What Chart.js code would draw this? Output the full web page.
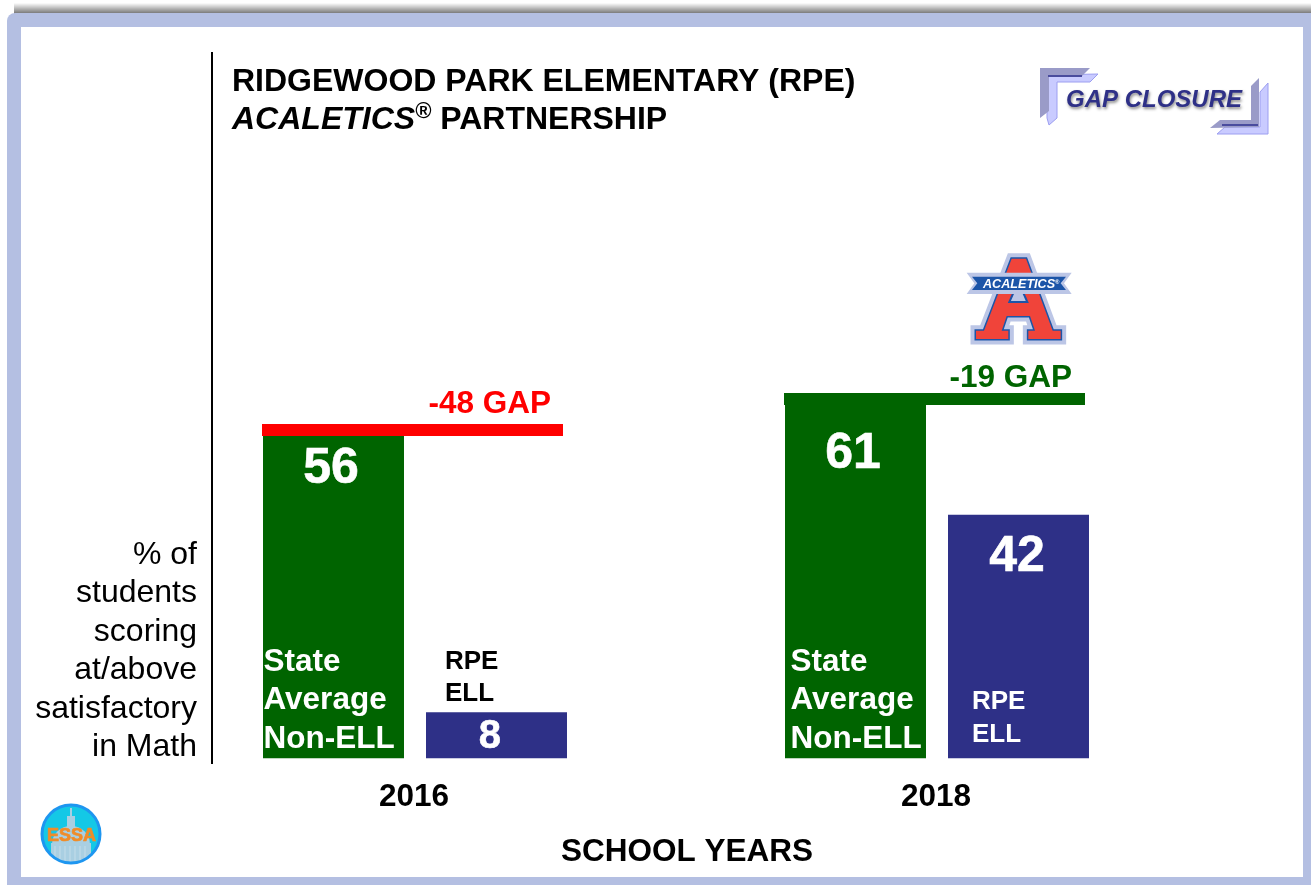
<!DOCTYPE html>
<html>
<head>
<meta charset="utf-8">
<title>Gap Closure</title>
<script src="https://cdn.jsdelivr.net/npm/chart.js@4/dist/chart.umd.min.js"></script>
<style>
  html, body { margin: 0; padding: 0; background: #fff; overflow: hidden; }
  #wrap { position: relative; width: 1311px; height: 885px; }
</style>
</head>
<body>
<div id="wrap"><canvas id="Chart1"></canvas></div>
<script>
const categories = ["2016", "2018"];
const stateAverage = [56, 61];
const rpeEll = [8, 42];
const gaps = [-48, -19];
const yAxisLines = ["% of", "students", "scoring", "at/above", "satisfactory", "in Math"];
const stateLines = ["State", "Average", "Non-ELL"];
const rpeLines = ["RPE", "ELL"];

const GREEN = "#006400";
const BLUE = "#2E3087";
const FONT = '"Liberation Sans", Arial, sans-serif';

function text(ctx, str, x, y, font, color, align) {
  ctx.font = font;
  ctx.fillStyle = color;
  ctx.textAlign = align || "left";
  ctx.textBaseline = "alphabetic";
  ctx.fillText(str, x, y);
}

function poly(ctx, pts) {
  ctx.beginPath();
  pts.forEach(function (p, i) {
    if (i === 0) ctx.moveTo(p[0], p[1]); else ctx.lineTo(p[0], p[1]);
  });
  ctx.closePath();
}

// slide frame with the soft shadow along the top
function drawFrame(ctx) {
  const g = ctx.createLinearGradient(0, 3, 0, 14);
  g.addColorStop(0, "rgba(110,110,110,0)");
  g.addColorStop(1, "rgba(110,110,110,1)");
  ctx.fillStyle = g;
  ctx.fillRect(14, 3, 1297, 11);
  ctx.fillStyle = "#B4BFE2";
  ctx.beginPath();
  ctx.roundRect(7, 13, 1320, 890, 8);
  ctx.fill();
  ctx.fillStyle = "#fff";
  ctx.fillRect(21, 27, 1282, 850);
}

function gapClosureLogo(ctx) {
  ctx.fillStyle = "#C9CBFF";
  ctx.strokeStyle = "#9C9EF0";
  ctx.lineWidth = 1;
  poly(ctx, [[1047,75],[1098,74],[1090,82],[1057,82],[1057,118],[1049,125],[1047,118]]); ctx.fill(); ctx.stroke();
  poly(ctx, [[1268,83],[1268,134],[1217,134],[1225,127],[1260,127],[1260,92]]); ctx.fill(); ctx.stroke();
  ctx.fillStyle = "#9A9BC8";
  poly(ctx, [[1040,68],[1090,68],[1082,76],[1049,76],[1049,111],[1040,118]]); ctx.fill();
  poly(ctx, [[1259,78],[1259,127],[1210,128],[1220,120],[1251,120],[1251,86]]); ctx.fill();
  ctx.fillStyle = "#4A4C9E";
  ctx.fillRect(1048, 75, 34, 2);
  ctx.fillRect(1222, 124, 36, 2);
  ctx.save();
  ctx.shadowColor = "rgba(0,0,0,0.45)";
  ctx.shadowBlur = 3;
  ctx.shadowOffsetX = 1;
  ctx.shadowOffsetY = 2;
  text(ctx, "GAP CLOSURE", 1066, 107, "italic bold 24px " + FONT, BLUE);
  ctx.restore();
}

function acaleticsLogo(ctx) {
  const z = function (pts) {
    return pts.map(function (p) { return [940 + p[0] / 3, 240 + p[1] / 3]; });
  };
  const a = z([[215,56],[258,56],[338,272],[362,272],[362,297],[265,297],[265,272],[285,272],[270,228],[200,228],[185,272],[205,272],[205,297],[108,297],[108,272],[132,272]]);
  ctx.save();
  ctx.lineJoin = "miter";
  ctx.strokeStyle = "#BCC6E6";
  ctx.lineWidth = 11;
  poly(ctx, a); ctx.stroke();
  ctx.strokeStyle = "#1C55A8";
  ctx.lineWidth = 3;
  poly(ctx, a); ctx.stroke();
  ctx.fillStyle = "#F0443A";
  poly(ctx, a); ctx.fill();
  ctx.fillStyle = "#BCC6E6";
  ctx.strokeStyle = "#1C55A8";
  ctx.lineWidth = 2;
  poly(ctx, z([[208,186],[262,186],[235,125]])); ctx.fill(); ctx.stroke();
  ctx.fillStyle = "#BCC6E6";
  poly(ctx, z([[80,98],[395,98],[372,130],[395,162],[80,162],[103,130]])); ctx.fill();
  ctx.fillStyle = "#1C55A8";
  poly(ctx, z([[96,110],[378,110],[362,130],[378,150],[96,150],[112,130]])); ctx.fill();
  ctx.restore();
  text(ctx, "ACALETICS", 983, 288, "italic bold 12.6px " + FONT, "#fff");
  text(ctx, "®", 1055, 284, "bold 6px " + FONT, "#fff");
}

function essaLogo(ctx) {
  ctx.save();
  ctx.beginPath();
  ctx.arc(71, 834, 29, 0, Math.PI * 2);
  ctx.fillStyle = "#14C8E6";
  ctx.fill();
  ctx.clip();
  // capitol dome
  ctx.fillStyle = "#A9CFE2";
  ctx.fillRect(70, 808, 2, 10);
  ctx.fillRect(67, 816, 8, 12);
  ctx.beginPath();
  ctx.ellipse(71, 844, 19, 18, 0, Math.PI, 0);
  ctx.fill();
  ctx.fillRect(51, 843, 40, 24);
  ctx.strokeStyle = "#C4DDEA";
  ctx.lineWidth = 1;
  for (let x = 55; x < 90; x += 5) {
    ctx.beginPath();
    ctx.moveTo(x, 846);
    ctx.lineTo(x, 864);
    ctx.stroke();
  }
  ctx.restore();
  ctx.beginPath();
  ctx.arc(71, 834, 29, 0, Math.PI * 2);
  ctx.strokeStyle = "#1E96F0";
  ctx.lineWidth = 3;
  ctx.stroke();
  ctx.save();
  ctx.strokeStyle = "#F08C28";
  ctx.lineWidth = 0.7;
  ctx.font = "bold 18px " + FONT;
  ctx.textAlign = "center";
  ctx.strokeText("ESSA", 71.5, 841);
  ctx.restore();
  text(ctx, "ESSA", 71.5, 841, "bold 18px " + FONT, "#F08C28", "center");
}

const frame = {
  id: "frame",
  beforeDraw: function (chart) {
    drawFrame(chart.ctx);
  }
};

const slideText = {
  id: "slideText",
  afterDraw: function (chart) {
    const ctx = chart.ctx;
    const y = chart.scales.y;
    const state = chart.getDatasetMeta(0).data;
    const rpe = chart.getDatasetMeta(1).data;

    // axis rule
    ctx.fillStyle = "#000";
    ctx.fillRect(211, 52, 2, 712);

    // heading
    text(ctx, "RIDGEWOOD PARK ELEMENTARY (RPE)", 232, 91, "bold 32px " + FONT, "#000");
    text(ctx, "ACALETICS", 232, 129, "italic bold 32px " + FONT, "#000");
    let w = ctx.measureText("ACALETICS").width;
    text(ctx, "®", 232 + w, 118, "italic bold 22px " + FONT, "#000");
    w += ctx.measureText("®").width;
    text(ctx, " PARTNERSHIP", 232 + w, 129, "bold 32px " + FONT, "#000");

    // left description
    yAxisLines.forEach(function (s, i) {
      text(ctx, s, 197, 564 + i * 38.4, "32px " + FONT, "#000", "right");
    });

    text(ctx, "SCHOOL YEARS", 687, 861, "bold 31.5px " + FONT, "#000", "center");

    // gap bars and labels
    const gapColor = ["#FF0000", GREEN];
    const gapLift = [9, 11];
    const gapBase = [413, 387];
    const gapRight = [551, 1072];
    categories.forEach(function (c, i) {
      const top = y.getPixelForValue(stateAverage[i]) - gapLift[i];
      const left = state[i].x - state[i].width / 2 - 1;
      const right = rpe[i].x + rpe[i].width / 2 - 4;
      ctx.fillStyle = gapColor[i];
      ctx.fillRect(left, Math.round(top), right - left, 12);
      text(ctx, gaps[i] + " GAP", gapRight[i], gapBase[i], "bold 31.5px " + FONT, gapColor[i], "right");
    });

    // values inside the bars
    const white = "#fff";
    const valFont = "bold 50px " + FONT;
    const numBase = [[483, 748], [468, 571]];
    const numShift = [[-2.5, -6.5], [-2.5, -1.5]];
    categories.forEach(function (c, i) {
      const smallFont = i === 0 ? "bold 40px " + FONT : valFont;
      ctx.save();
      ctx.strokeStyle = white;
      ctx.lineWidth = 0.6;
      ctx.font = valFont;
      ctx.textAlign = "center";
      ctx.strokeText(String(stateAverage[i]), state[i].x + numShift[i][0], numBase[i][0]);
      ctx.font = smallFont;
      ctx.strokeText(String(rpeEll[i]), rpe[i].x + numShift[i][1], numBase[i][1]);
      ctx.restore();
      text(ctx, String(stateAverage[i]), state[i].x + numShift[i][0], numBase[i][0], valFont, white, "center");
      text(ctx, String(rpeEll[i]), rpe[i].x + numShift[i][1], numBase[i][1], smallFont, white, "center");

      // series names
      const sx = [263.5, 790.5][i];
      const sb = [671, 709, 748];
      stateLines.forEach(function (s, k) {
        text(ctx, s, sx, sb[k], "bold 31.5px " + FONT, white);
      });
    });
    const rpeBase2016 = [669, 701];
    const rpeBase2018 = [709, 742];
    rpeLines.forEach(function (s, k) {
      text(ctx, s, 445, rpeBase2016[k], "bold 26px " + FONT, "#000");
      text(ctx, s, 972, rpeBase2018[k], "bold 26px " + FONT, white);
    });

    gapClosureLogo(ctx);
    acaleticsLogo(ctx);
    essaLogo(ctx);
  }
};

const data1 = {
  labels: categories,
  datasets: [
    {
      label: "State Average Non-ELL",
      data: stateAverage,
      backgroundColor: GREEN,
      borderWidth: 0,
      categoryPercentage: 0.6245,
      barPercentage: 0.865
    },
    {
      label: "RPE ELL",
      data: rpeEll,
      backgroundColor: BLUE,
      borderWidth: 0,
      categoryPercentage: 0.6245,
      barPercentage: 0.865
    }
  ]
};

const config1 = {
  type: "bar",
  data: data1,
  plugins: [frame, slideText],
  options: {
    responsive: true,
    maintainAspectRatio: false,
    animation: false,
    layout: {
      padding: { left: 154, right: 113, top: 178, bottom: 48.6 }
    },
    scales: {
      x: {
        grid: { display: false, drawTicks: false },
        border: { display: false },
        ticks: {
          color: "#000",
          padding: 20,
          maxRotation: 0,
          labelOffset: -1,
          font: { family: FONT, size: 31.5, weight: "bold" }
        }
      },
      y: {
        display: false,
        min: 0,
        max: 100
      }
    },
    plugins: {
      legend: { display: false },
      title: { display: false },
      tooltip: { enabled: false }
    }
  }
};

const myChart1 = new Chart(document.getElementById("Chart1"), config1);
</script>
</body>
</html>
